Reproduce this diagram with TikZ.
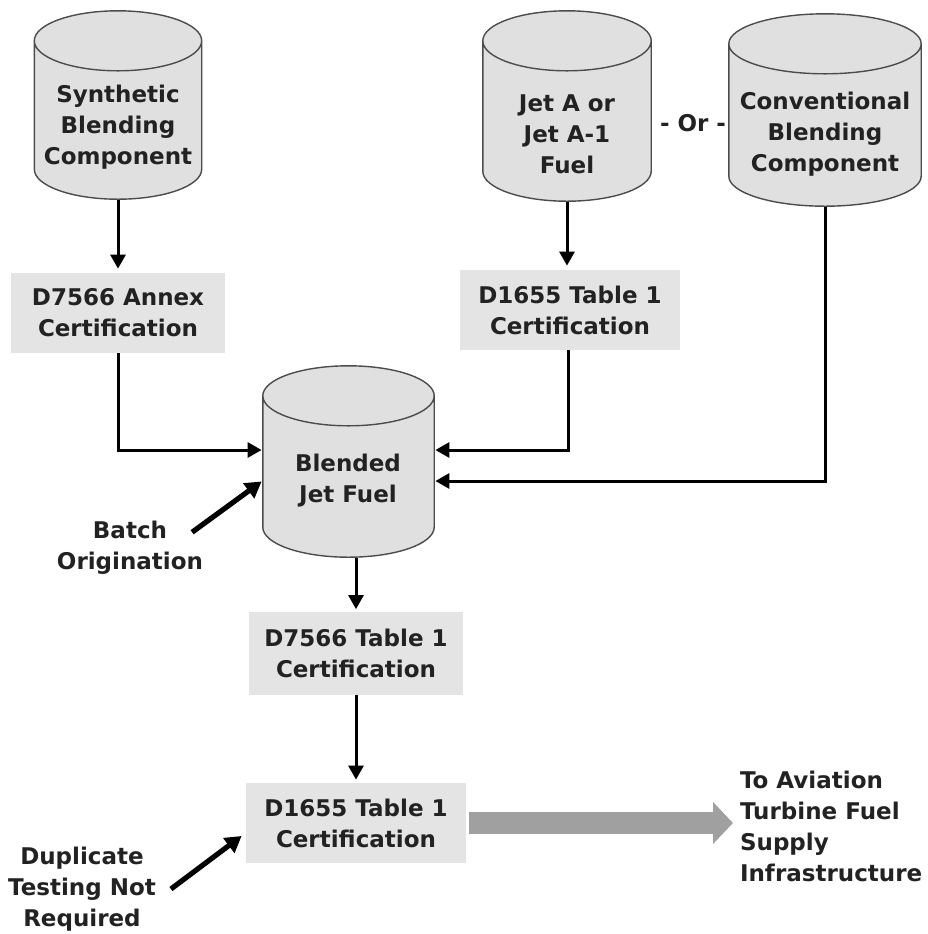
\documentclass[tikz,border=0pt]{standalone}
\usepackage{fontspec}
\setmainfont{DejaVu Sans}
\usetikzlibrary{arrows.meta}
\definecolor{boxgray}{HTML}{E4E4E4}
\definecolor{tankgray}{HTML}{E0E0E0}
\definecolor{flowgray}{HTML}{A0A0A0}
\definecolor{inkgray}{HTML}{222222}
\begin{document}
\begin{tikzpicture}[x=0.5pt, y=-0.5pt]
    \tikzstyle{every node}=[font=\fontsize{11.5}{15.5}\selectfont\bfseries, align=center, text=inkgray]
    \tikzset{
        tank/.style 2 args={minimum width=#1pt, minimum height=#2pt, inner sep=0pt,
            path picture={
                \draw[draw=black!70, fill=tankgray, line width=0.7pt, shift={(path picture bounding box.center)}, x=1pt, y=1pt]
                    ({-#1/2+0.4}, {#2/2-15.4}) -- ({-#1/2+0.4}, {-#2/2+15.4})
                    arc[start angle=180, end angle=360, x radius={#1/2-0.4}, y radius=15]
                    -- ({#1/2-0.4}, {#2/2-15.4})
                    arc[start angle=0, end angle=180, x radius={#1/2-0.4}, y radius=15] -- cycle
                    ({-#1/2+0.4}, {#2/2-15.4})
                    arc[start angle=180, end angle=360, x radius={#1/2-0.4}, y radius=15];
            }},
        cert/.style={fill=boxgray, minimum height=40pt, minimum width=107pt, inner sep=0pt},
        flow/.style={line width=1.5pt, -{Triangle[length=7pt, width=7.5pt]}},
        fat/.style={line width=2.6pt, -{Triangle[length=8pt, width=9pt]}}
        }
    \useasboundingbox (0,0) rectangle (928,934);

    %tanks
    \node (syn) [tank={84.5}{95}] at (118,105) {};
    \node (syntxt) at (118,127) {Synthetic\\Blending\\Component};
    \node (jeta) [tank={85}{96}] at (567,106) {};
    \node (jetatxt) at (567,134) {Jet A or\\Jet A-1\\Fuel};
    \node (conv) [tank={97}{97}] at (825,110) {};
    \node (convtxt) at (825,134) {Conventional\\Blending\\Component};
    \node (or) at (693,123) {- Or -};

    %certifications
    \node (annex) [cert] at (118,313) {D7566 Annex\\Certification};
    \node (jcert) [cert, minimum width=110pt] at (570,310) {D1655 Table 1\\Certification};

    %blend
    \node (blend) [tank={86.5}{96.5}] at (348.5,461.5) {};
    \node (blendtxt) at (348,481) {Blended\\Jet Fuel};
    \node (batch) at (130,548) {Batch\\Origination};

    \node (tcert) [cert, minimum height=41.5pt] at (356,653) {D7566 Table 1\\Certification};
    \node (dcert) [cert, minimum width=110pt] at (356,823) {D1655 Table 1\\Certification};
    \node (dup) at (82,889) {Duplicate\\Testing Not\\Required};
    \node (dest) [anchor=west, align=left] at (733,826) {To Aviation\\Turbine Fuel\\Supply\\Infrastructure};

    \draw[flow, shorten >=2pt] (syn.south) -- (annex.north);
    \draw[flow, shorten >=2pt] (jeta.south) -- (jeta.south |- jcert.north);
    \draw[flow] (annex.south) |- ([yshift=5.75pt]blend.west);
    \draw[flow] ([xshift=-1pt]jcert.south) |- ([yshift=5.75pt]blend.east);
    \draw[flow] (conv.south) |- ([yshift=-9.75pt]blend.east);

    \draw[flow, shorten >=1pt] (blend.south -| tcert.north) -- (tcert.north);
    \draw[flow, shorten >=1.5pt] (tcert.south) -- (dcert.north);

    % side notes
    \draw[fat] ([xshift=-9pt, yshift=-9pt]batch.north east) -- ([yshift=-10pt]blend.west);
    \draw[fat, shorten >=2.5pt] ([xshift=4pt]dup.east) -- ([yshift=-5pt]dcert.west);

    % supply
    \draw[flowgray, line width=11pt, shorten <=1.5pt, -{Triangle[length=10pt, width=20.5pt]}] (dcert.east) -- (dcert.east -| dest.west);
\end{tikzpicture}
\end{document}
